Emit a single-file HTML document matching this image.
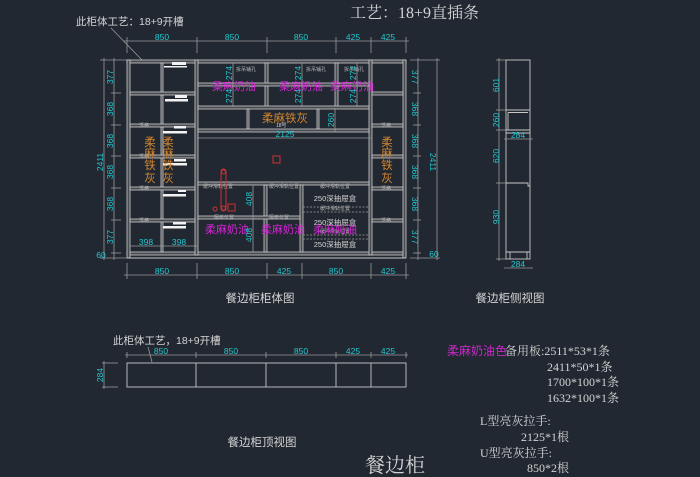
<!DOCTYPE html>
<html><head><meta charset="utf-8">
<style>
html,body{margin:0;padding:0;background:#222831;}
svg{display:block;}
.p{fill:#464b52;stroke:#cccccc;stroke-width:0.8;}
.d{stroke:#9a9a9a;stroke-width:0.8;fill:none;}
.c{fill:#22c8d0;font-family:"Liberation Sans",sans-serif;font-size:8.5px;}
.m{fill:#d424d4;font-family:"Liberation Sans","Noto Sans CJK SC",sans-serif;font-size:11px;}
.o{fill:#d08430;font-family:"Liberation Sans","Noto Sans CJK SC",sans-serif;font-size:11.5px;}
.s{fill:#b8b8b8;font-family:"Liberation Sans","Noto Sans CJK SC",sans-serif;font-size:5px;}
.w{fill:#d4d4d4;font-family:"Liberation Sans","Noto Sans CJK SC",sans-serif;}
.sf{fill:#d4d4d4;font-family:"Liberation Serif","Noto Serif CJK SC",serif;}
.l{stroke:#c8c8c8;stroke-width:0.9;fill:none;}
.r{stroke:#c83232;stroke-width:1;fill:none;}
.hb{fill:#f2f2f2;}
</style></head>
<body>
<svg width="700" height="477" viewBox="0 0 700 477" xmlns="http://www.w3.org/2000/svg">
<rect width="700" height="477" fill="#222831"/>

<text x="350" y="18" class="sf" font-size="16">工艺：18+9直插条</text>
<text x="76" y="25" class="w" font-size="10.5">此柜体工艺：18+9开槽</text>
<line x1="111" y1="28" x2="142" y2="60" class="d"/>

<line x1="124" y1="41" x2="409" y2="41" class="d"/>
<g class="d">
<line x1="127" y1="37" x2="127" y2="53"/><line x1="197" y1="37" x2="197" y2="53"/>
<line x1="267" y1="37" x2="267" y2="53"/><line x1="336" y1="37" x2="336" y2="53"/>
<line x1="371" y1="37" x2="371" y2="53"/><line x1="406" y1="37" x2="406" y2="53"/>
</g>
<g class="c" text-anchor="middle">
<text x="162" y="40">850</text><text x="232" y="40">850</text><text x="301" y="40">850</text>
<text x="353" y="40">425</text><text x="388" y="40">425</text>
</g>

<g class="p">
<rect x="127" y="60" width="279" height="3"/>
<rect x="127" y="252" width="279" height="3"/>
<rect x="127" y="60" width="3" height="198"/>
<rect x="403" y="60" width="3" height="198"/>
<rect x="161" y="63" width="2" height="189"/>
<rect x="195" y="60" width="3" height="195"/>
<rect x="369" y="60" width="3" height="195"/>
<rect x="130" y="92" width="65" height="3"/><rect x="130" y="124" width="65" height="3"/>
<rect x="130" y="155" width="65" height="3"/><rect x="130" y="187" width="65" height="3"/>
<rect x="130" y="219" width="65" height="3"/>
<rect x="372" y="92" width="31" height="3"/><rect x="372" y="124" width="31" height="3"/>
<rect x="372" y="155" width="31" height="3"/><rect x="372" y="187" width="31" height="3"/>
<rect x="372" y="219" width="31" height="3"/>
<rect x="265" y="63" width="3" height="44"/>
<rect x="335" y="63" width="3" height="44"/>
<rect x="198" y="83" width="171" height="3"/>
<rect x="198" y="106" width="171" height="3"/>
<rect x="247" y="109" width="2" height="20"/>
<rect x="317" y="109" width="2" height="20"/>
<rect x="198" y="129" width="171" height="3"/>
<rect x="198" y="182" width="171" height="3"/>
<rect x="264" y="185" width="3" height="67"/>
<rect x="300" y="185" width="3" height="67"/>
<rect x="198" y="216" width="102" height="3"/>
</g>
<line x1="127" y1="258" x2="406" y2="258" class="l"/>

<g stroke="#a0a0a0" stroke-width="0.8" stroke-dasharray="2,1.5">
<line x1="303" y1="207" x2="369" y2="207"/>
<line x1="303" y1="212" x2="369" y2="212"/>
<line x1="303" y1="235" x2="369" y2="235"/>
<line x1="303" y1="239" x2="369" y2="239"/>
</g>

<g class="hb">
<rect x="172" y="62" width="14" height="3"/><rect x="164" y="66" width="23" height="1.5"/>
<rect x="175" y="95" width="12" height="3"/><rect x="165" y="99" width="23" height="2.5"/>
<rect x="174" y="126" width="12" height="2.5"/><rect x="163" y="131" width="24" height="2.5"/>
<rect x="174" y="159" width="12" height="2.5"/><rect x="163" y="163" width="24" height="2.5"/>
<rect x="178" y="190" width="8" height="2"/><rect x="163" y="194" width="23" height="2.5"/>
<rect x="173" y="222" width="13" height="2.5"/><rect x="163" y="226" width="23" height="2.5"/>
</g>

<g class="s">
<text x="139" y="127">活格</text><text x="139" y="158">活格</text><text x="139" y="190">活格</text><text x="139" y="222">活格</text>
<text x="381" y="127">活格</text><text x="381" y="190">活格</text><text x="381" y="222">活格</text>
<text x="236" y="71">拆吊铺孔</text><text x="306" y="71">拆吊铺孔</text><text x="344" y="71">拆吊铺孔</text>
<text x="203" y="188">缓冲滑轨位置</text><text x="269" y="188">缓冲滑轨位置</text><text x="320" y="188">缓冲滑轨位置</text>
<text x="214" y="219">隔板位置</text><text x="269" y="219">隔板位置</text>
<text x="320" y="210">缓冲滑轨位置</text><text x="320" y="233">缓冲滑轨位置</text>
</g>

<g class="o" text-anchor="middle">
<text x="150" y="146">柔</text><text x="150" y="157">麻</text><text x="150" y="169">铁</text><text x="150" y="182">灰</text>
<text x="168" y="146">柔</text><text x="168" y="157">麻</text><text x="168" y="169">铁</text><text x="168" y="182">灰</text>
<text x="387" y="146">柔</text><text x="387" y="157">麻</text><text x="387" y="169">铁</text><text x="387" y="182">灰</text>
<text x="285" y="122">柔麻铁灰</text>
</g>
<text x="276" y="127" class="w" font-size="5">18号</text>

<g class="m" text-anchor="middle">
<text x="234" y="90">柔麻奶油</text><text x="301" y="90">柔麻奶油</text><text x="352" y="90">柔麻奶油</text>
<text x="227" y="233">柔麻奶油</text><text x="283" y="233">柔麻奶油</text><text x="335" y="233">柔麻奶油</text>
</g>

<g class="w" font-size="7.5" text-anchor="middle">
<text x="335" y="201">250深抽屉盒</text>
<text x="335" y="225">250深抽屉盒</text>
<text x="335" y="247">250深抽屉盒</text>
</g>

<g class="d">
<line x1="233" y1="63" x2="233" y2="107"/><line x1="302" y1="63" x2="302" y2="107"/><line x1="357" y1="63" x2="357" y2="107"/>
<line x1="335" y1="108" x2="335" y2="132"/>
<line x1="253" y1="185" x2="253" y2="252"/>
<line x1="197" y1="138" x2="371" y2="138"/>
<line x1="130" y1="246" x2="197" y2="246"/>
</g>
<g class="c" text-anchor="middle">
<text transform="translate(229,73) rotate(-90)" dominant-baseline="central">274</text>
<text transform="translate(229,96) rotate(-90)" dominant-baseline="central">274</text>
<text transform="translate(298,73) rotate(-90)" dominant-baseline="central">274</text>
<text transform="translate(298,96) rotate(-90)" dominant-baseline="central">274</text>
<text transform="translate(353,73) rotate(-90)" dominant-baseline="central">274</text>
<text transform="translate(353,96) rotate(-90)" dominant-baseline="central">274</text>
<text transform="translate(331,120) rotate(-90)" dominant-baseline="central">260</text>
<text transform="translate(249,199) rotate(-90)" dominant-baseline="central">408</text>
<text transform="translate(249,235) rotate(-90)" dominant-baseline="central">408</text>
<text x="285" y="137">2125</text>
<text x="146" y="245">398</text><text x="179" y="245">398</text>
</g>

<rect x="273" y="156" width="7" height="7" class="r"/>
<rect x="221" y="169" width="5" height="42" rx="2.5" class="r"/>
<circle cx="223.5" cy="172" r="2" class="r"/>
<circle cx="223.5" cy="208" r="2" class="r"/>
<circle cx="215" cy="209" r="2" class="r"/>
<rect x="228" y="204" width="7" height="7" class="r"/>

<g class="d">
<line x1="104" y1="58" x2="104" y2="260"/>
<line x1="114" y1="58" x2="114" y2="260"/>
<line x1="100" y1="60" x2="127" y2="60"/><line x1="100" y1="258" x2="127" y2="258"/>
<line x1="111" y1="93" x2="121" y2="93"/><line x1="111" y1="125" x2="121" y2="125"/>
<line x1="111" y1="156" x2="121" y2="156"/><line x1="111" y1="188" x2="121" y2="188"/>
<line x1="111" y1="220" x2="121" y2="220"/><line x1="111" y1="253" x2="121" y2="253"/>
<line x1="410" y1="60" x2="440" y2="60"/><line x1="410" y1="258" x2="440" y2="258"/>
<line x1="418" y1="58" x2="418" y2="260"/><line x1="437" y1="58" x2="437" y2="260"/>
<line x1="413" y1="93" x2="421" y2="93"/><line x1="413" y1="125" x2="421" y2="125"/>
<line x1="413" y1="156" x2="421" y2="156"/><line x1="413" y1="188" x2="421" y2="188"/>
<line x1="413" y1="220" x2="421" y2="220"/><line x1="413" y1="253" x2="421" y2="253"/>
</g>
<g class="c" text-anchor="middle">
<text transform="translate(110,77) rotate(-90)" dominant-baseline="central">377</text>
<text transform="translate(110,109) rotate(-90)" dominant-baseline="central">368</text>
<text transform="translate(110,141) rotate(-90)" dominant-baseline="central">368</text>
<text transform="translate(110,172) rotate(-90)" dominant-baseline="central">368</text>
<text transform="translate(110,204) rotate(-90)" dominant-baseline="central">368</text>
<text transform="translate(110,237) rotate(-90)" dominant-baseline="central">377</text>
<text transform="translate(100,162) rotate(-90)" dominant-baseline="central">2411</text>
<text x="101" y="258">60</text>
<text transform="translate(415,77) rotate(90)" dominant-baseline="central">377</text>
<text transform="translate(415,109) rotate(90)" dominant-baseline="central">368</text>
<text transform="translate(415,141) rotate(90)" dominant-baseline="central">368</text>
<text transform="translate(415,172) rotate(90)" dominant-baseline="central">368</text>
<text transform="translate(415,204) rotate(90)" dominant-baseline="central">368</text>
<text transform="translate(415,237) rotate(90)" dominant-baseline="central">377</text>
<text transform="translate(433,162) rotate(90)" dominant-baseline="central">2411</text>
<text x="434" y="257">60</text>
</g>

<g class="d">
<line x1="124" y1="275" x2="409" y2="275"/>
<line x1="127" y1="263" x2="127" y2="279"/><line x1="197" y1="263" x2="197" y2="279"/>
<line x1="267" y1="263" x2="267" y2="279"/><line x1="302" y1="263" x2="302" y2="279"/>
<line x1="371" y1="263" x2="371" y2="279"/><line x1="406" y1="263" x2="406" y2="279"/>
</g>
<g class="c" text-anchor="middle">
<text x="162" y="274">850</text><text x="232" y="274">850</text><text x="284" y="274">425</text>
<text x="336" y="274">850</text><text x="388" y="274">425</text>
</g>

<g class="l">
<rect x="506" y="60" width="24" height="199"/>
<line x1="506" y1="110" x2="530" y2="110"/><line x1="508" y1="112.5" x2="528" y2="112.5"/>
<line x1="508" y1="112.5" x2="508" y2="130"/>
<line x1="506" y1="130" x2="530" y2="130"/><line x1="506" y1="133" x2="530" y2="133"/>
<polyline points="506,183 528,183 528,186 530,186"/>
<line x1="506" y1="252" x2="530" y2="252"/>
<line x1="510" y1="252" x2="510" y2="259"/><line x1="527" y1="252" x2="527" y2="259"/>
</g>
<g class="d">
<line x1="499" y1="58" x2="499" y2="261"/>
<line x1="496" y1="60" x2="506" y2="60"/><line x1="496" y1="110" x2="506" y2="110"/>
<line x1="496" y1="130" x2="506" y2="130"/><line x1="496" y1="183" x2="506" y2="183"/>
<line x1="496" y1="259" x2="506" y2="259"/>
<line x1="504" y1="139" x2="533" y2="139"/>
<line x1="504" y1="268" x2="533" y2="268"/>
</g>
<g class="c" text-anchor="middle">
<text transform="translate(496,85) rotate(-90)" dominant-baseline="central">601</text>
<text transform="translate(496,120) rotate(-90)" dominant-baseline="central">260</text>
<text transform="translate(496,156) rotate(-90)" dominant-baseline="central">620</text>
<text transform="translate(496,217) rotate(-90)" dominant-baseline="central">930</text>
<text x="518" y="138">284</text>
<text x="518" y="267">284</text>
</g>

<text x="260" y="302" class="w" font-size="11.5" text-anchor="middle">餐边柜柜体图</text>
<text x="510" y="302" class="w" font-size="11.5" text-anchor="middle">餐边柜侧视图</text>
<text x="262" y="446" class="w" font-size="11.5" text-anchor="middle">餐边柜顶视图</text>
<text x="395" y="472" class="sf" font-size="20" text-anchor="middle">餐边柜</text>

<text x="113" y="344" class="w" font-size="10.5">此柜体工艺，18+9开槽</text>
<line x1="148" y1="347" x2="152" y2="362" class="d"/>
<g class="l">
<rect x="127" y="363" width="279" height="24"/>
<line x1="196" y1="363" x2="196" y2="387"/><line x1="266" y1="363" x2="266" y2="387"/>
<line x1="336" y1="363" x2="336" y2="387"/><line x1="371" y1="363" x2="371" y2="387"/>
</g>
<g class="d">
<line x1="125" y1="355" x2="408" y2="355"/>
<line x1="127" y1="352" x2="127" y2="358"/><line x1="196" y1="352" x2="196" y2="358"/>
<line x1="266" y1="352" x2="266" y2="358"/><line x1="336" y1="352" x2="336" y2="358"/>
<line x1="371" y1="352" x2="371" y2="358"/><line x1="406" y1="352" x2="406" y2="358"/>
<line x1="104" y1="361" x2="104" y2="389"/>
<line x1="102" y1="363" x2="118" y2="363"/><line x1="102" y1="387" x2="118" y2="387"/>
</g>
<g class="c" text-anchor="middle">
<text x="161" y="354">850</text><text x="231" y="354">850</text><text x="301" y="354">850</text>
<text x="353" y="354">425</text><text x="388" y="354">425</text>
<text transform="translate(100,375) rotate(-90)" dominant-baseline="central">284</text>
</g>

<g font-size="12">
<text x="447" y="355" fill="#c828c8" font-family="'Liberation Sans','Noto Sans CJK SC',sans-serif">柔麻奶油色</text>
<text x="505" y="355" class="sf">备用板:2511*53*1条</text>
<text x="547" y="371" class="sf">2411*50*1条</text>
<text x="547" y="386" class="sf">1700*100*1条</text>
<text x="547" y="402" class="sf">1632*100*1条</text>
<text x="480" y="425" class="sf">L型亮灰拉手:</text>
<text x="521" y="441" class="sf">2125*1根</text>
<text x="480" y="457" class="sf">U型亮灰拉手:</text>
<text x="527" y="472" class="sf">850*2根</text>
</g>
</svg>
</body></html>
